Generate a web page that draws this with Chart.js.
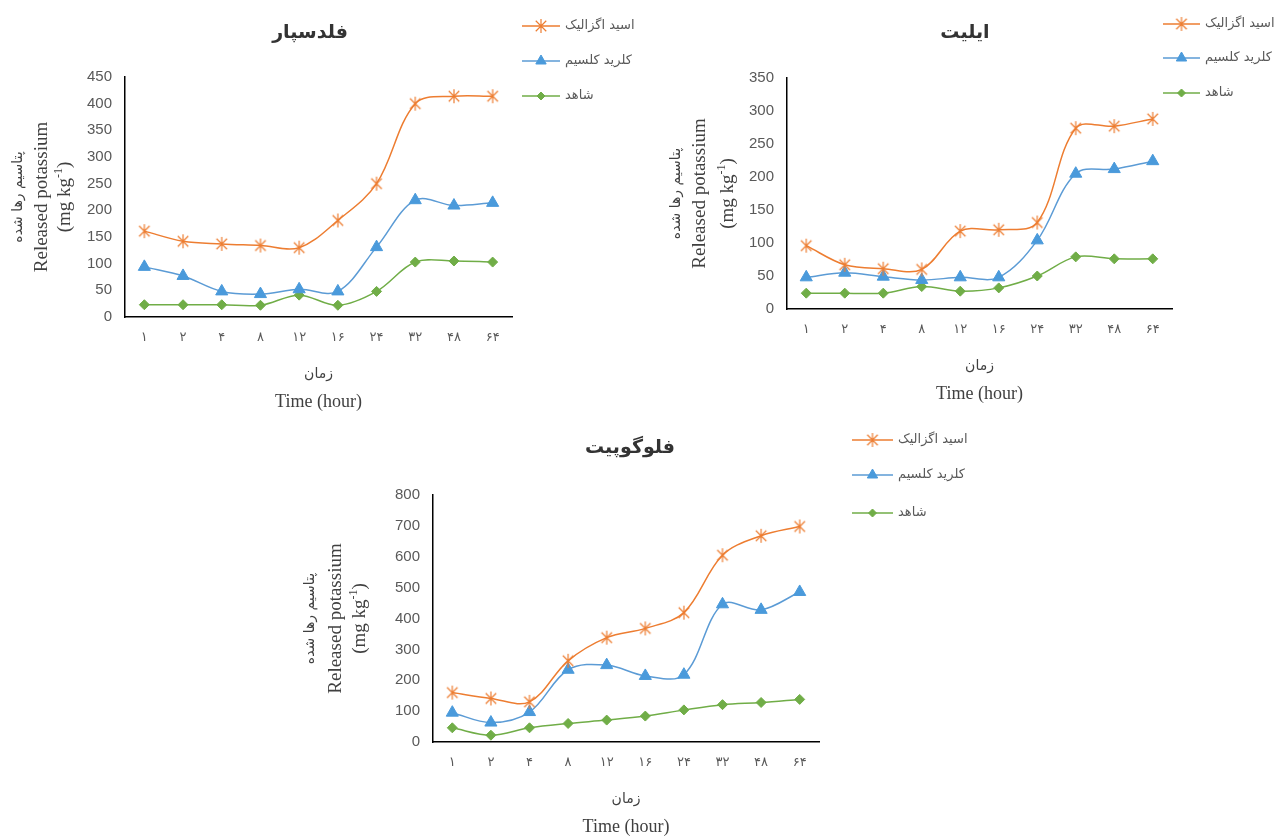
<!DOCTYPE html>
<html lang="fa">
<head>
<meta charset="utf-8">
<title>Released potassium</title>
<script src="https://cdn.jsdelivr.net/npm/chart.js@4.4.1/dist/chart.umd.min.js"></script>
<style>
    html, body { margin: 0; padding: 0; background: #fff; }
    body { width: 1275px; height: 840px; position: relative; overflow: hidden; }
    .box { position: absolute; }
</style>
</head>
<body>
<div class="box" style="left:0;top:0;width:640px;height:420px"><canvas id="feldsparChart"></canvas></div>
<div class="box" style="left:640px;top:0;width:635px;height:420px"><canvas id="illiteChart"></canvas></div>
<div class="box" style="left:300px;top:420px;width:700px;height:420px"><canvas id="phlogopiteChart"></canvas></div>
<script>

const hourLabels = ['۱', '۲', '۴', '۸', '۱۲', '۱۶', '۲۴', '۳۲', '۴۸', '۶۴'];
const seriesNames = ['اسید اگزالیک', 'کلرید کلسیم', 'شاهد'];

const feldsparOxalic = [161, 142, 137, 134, 130, 181, 250, 400, 414, 414];
const feldsparCaCl = [94, 77, 48, 43, 52, 48, 131, 219, 209, 214];
const feldsparControl = [23, 23, 23, 22, 41, 22, 48, 103, 105, 103];

const illiteOxalic = [96, 67, 61, 60, 118, 120, 131, 274, 277, 288];
const illiteCaCl = [48, 55, 49, 44, 48, 48, 104, 205, 212, 224];
const illiteControl = [24, 24, 24, 34, 27, 32, 50, 79, 76, 76];

const phlogopiteOxalic = [160, 141, 130, 263, 338, 368, 419, 605, 668, 698];
const phlogopiteCaCl = [95, 63, 97, 234, 249, 214, 218, 446, 428, 486];
const phlogopiteControl = [46, 22, 46, 60, 71, 84, 104, 121, 128, 138];


const ORANGE = '#ED7D31';
const BLUE = '#5B9BD5';
const GREEN = '#70AD47';
const TEXT = '#404040';
const TICK = '#595959';

// excel style "*" marker
const makeAsterisk = (color, size) => {
    const c = document.createElement('canvas');
    c.width = size;
    c.height = size;
    const g = c.getContext('2d');
    g.strokeStyle = color;
    g.lineWidth = 1.2;
    const m = size / 2, r = size / 2 - 1, d = r * 0.75;
    g.beginPath();
    g.moveTo(m, m - r); g.lineTo(m, m + r);
    g.moveTo(m - d, m - d); g.lineTo(m + d, m + d);
    g.moveTo(m - d, m + d); g.lineTo(m + d, m - d);
    g.stroke();
    return c;
};
const asterisk = makeAsterisk(ORANGE, 16);

const buildDatasets = (oxalic, cacl, control) => [
    {
        label: seriesNames[0], data: oxalic,
        borderColor: ORANGE, borderWidth: 1.5,
        pointStyle: asterisk, pointRadius: 7,
        pointBackgroundColor: ORANGE, pointBorderColor: ORANGE
    },
    {
        label: seriesNames[1], data: cacl,
        borderColor: BLUE, borderWidth: 1.5,
        pointStyle: 'triangle', pointRadius: 7, pointBorderWidth: 1,
        pointBackgroundColor: '#4A9ADB', pointBorderColor: '#4A9ADB'
    },
    {
        label: seriesNames[2], data: control,
        borderColor: GREEN, borderWidth: 1.5,
        pointStyle: 'rectRot', pointRadius: 5, pointBorderWidth: 1,
        pointBackgroundColor: GREEN, pointBorderColor: GREEN
    }
];

// titles, axis titles and legend drawn on the canvas
const decorPlugin = {
    id: 'decor',
    afterDraw(chart, args, o) {
        const ctx = chart.ctx;
        const area = chart.chartArea;
        const cx = (area.left + area.right) / 2;
        const cy = (area.top + area.bottom) / 2;
        ctx.save();
        ctx.textBaseline = 'middle';
        ctx.textAlign = 'center';

        // chart title
        ctx.fillStyle = '#333';
        ctx.font = 'bold 19px "DejaVu Sans"';
        ctx.fillText(o.title, o.titleX, o.titleY);

        // x axis titles
        ctx.fillStyle = TEXT;
        ctx.font = '14px "DejaVu Sans"';
        ctx.fillText('زمان', cx, area.bottom + 57);
        ctx.font = '18px "Liberation Serif"';
        ctx.fillText('Time (hour)', cx, area.bottom + 85);

        // y axis titles
        ctx.save();
        ctx.translate(area.left + o.yTitle[0], cy);
        ctx.rotate(-Math.PI / 2);
        ctx.font = '14px "DejaVu Sans"';
        ctx.fillText('پتاسیم رها شده', 0, 0);
        ctx.restore();

        ctx.save();
        ctx.translate(area.left + o.yTitle[1], cy);
        ctx.rotate(-Math.PI / 2);
        ctx.font = '19px "Liberation Serif"';
        ctx.fillText('Released potassium', 0, 0);
        ctx.restore();

        ctx.save();
        ctx.translate(area.left + o.yTitle[2], cy);
        ctx.rotate(-Math.PI / 2);
        ctx.textAlign = 'left';
        const big = '19px "Liberation Serif"', small = '12px "Liberation Serif"';
        ctx.font = big;
        const w1 = ctx.measureText('(mg kg').width;
        const w3 = ctx.measureText(')').width;
        ctx.font = small;
        const w2 = ctx.measureText('-1').width;
        let x = -(w1 + w2 + w3) / 2;
        ctx.font = big;
        ctx.fillText('(mg kg', x, 0);
        x += w1;
        ctx.font = small;
        ctx.fillText('-1', x, -6);
        x += w2;
        ctx.font = big;
        ctx.fillText(')', x, 0);
        ctx.restore();

        // legend
        ctx.textAlign = 'left';
        ctx.font = '13px "DejaVu Sans"';
        chart.data.datasets.forEach((ds, i) => {
            const y = o.legendY[i];
            const x0 = o.legendX, x1 = o.legendX + o.legendLine;
            ctx.strokeStyle = ds.borderColor;
            ctx.lineWidth = 1.5;
            ctx.beginPath();
            ctx.moveTo(x0, y);
            ctx.lineTo(x1, y);
            ctx.stroke();
            ctx.fillStyle = ds.pointBackgroundColor;
            ctx.strokeStyle = ds.pointBorderColor;
            ctx.lineWidth = 1;
            if (Chart.helpers && Chart.helpers.drawPoint) {
                Chart.helpers.drawPoint(ctx, {
                    pointStyle: ds.pointStyle,
                    radius: ds.pointRadius - 1,
                    rotation: 0,
                    borderWidth: ds.pointBorderWidth || 1
                }, (x0 + x1) / 2, y);
            }
            ctx.fillStyle = TICK;
            ctx.fillText(ds.label, x1 + 5, y);
        });
        ctx.restore();
    }
};

const Y_W = 50;
const X_H = 40;

const makeChart = (id, box, area, yMax, yStep, datasets, deco) => {
    const ctx = document.getElementById(id).getContext('2d');
    return new Chart(ctx, {
        type: 'line',
        data: { labels: hourLabels, datasets },
        options: {
            responsive: true,
            maintainAspectRatio: false,
            animation: false,
            events: [],
            elements: { line: { tension: 0.35 } },
            layout: {
                padding: {
                    left: area.left - Y_W,
                    top: area.top,
                    right: box.w - area.right,
                    bottom: box.h - area.bottom - X_H
                }
            },
            plugins: {
                legend: { display: false },
                title: { display: false },
                tooltip: { enabled: false },
                decor: deco
            },
            scales: {
                x: {
                    offset: true,
                    grid: { display: false, drawTicks: false },
                    border: { display: true, color: '#000', width: 1.5 },
                    ticks: {
                        color: TICK,
                        padding: 13,
                        maxRotation: 0,
                        font: { family: '"DejaVu Sans"', size: 13 }
                    },
                    afterFit: (scale) => { scale.height = X_H; }
                },
                y: {
                    min: 0,
                    max: yMax,
                    grid: { display: false, drawTicks: false },
                    border: { display: true, color: '#000', width: 1.5 },
                    ticks: {
                        stepSize: yStep,
                        color: TICK,
                        padding: 13,
                        font: { family: '"Liberation Sans Narrow", "Liberation Sans", sans-serif', size: 15 }
                    },
                    afterFit: (scale) => { scale.width = Y_W; }
                }
            }
        },
        plugins: [decorPlugin]
    });
};

makeChart('feldsparChart',
    { w: 640, h: 420 },
    { left: 125, top: 77, right: 512, bottom: 317 },
    450, 50,
    buildDatasets(feldsparOxalic, feldsparCaCl, feldsparControl),
    {
        title: 'فلدسپار', titleX: 310, titleY: 33,
        yTitle: [-107, -83, -60],
        legendX: 522, legendLine: 38, legendY: [26, 61, 96]
    });

makeChart('illiteChart',
    { w: 635, h: 420 },
    { left: 147, top: 78, right: 532, bottom: 309 },
    350, 50,
    buildDatasets(illiteOxalic, illiteCaCl, illiteControl),
    {
        title: 'ایلیت', titleX: 325, titleY: 33,
        yTitle: [-111, -87, -59],
        legendX: 523, legendLine: 37, legendY: [24, 58, 93]
    });

makeChart('phlogopiteChart',
    { w: 700, h: 420 },
    { left: 133, top: 75, right: 519, bottom: 322 },
    800, 100,
    buildDatasets(phlogopiteOxalic, phlogopiteCaCl, phlogopiteControl),
    {
        title: 'فلوگوپیت', titleX: 330, titleY: 28,
        yTitle: [-123, -97, -73],
        legendX: 552, legendLine: 41, legendY: [20, 55, 93]
    });
</script>
</body>
</html>
